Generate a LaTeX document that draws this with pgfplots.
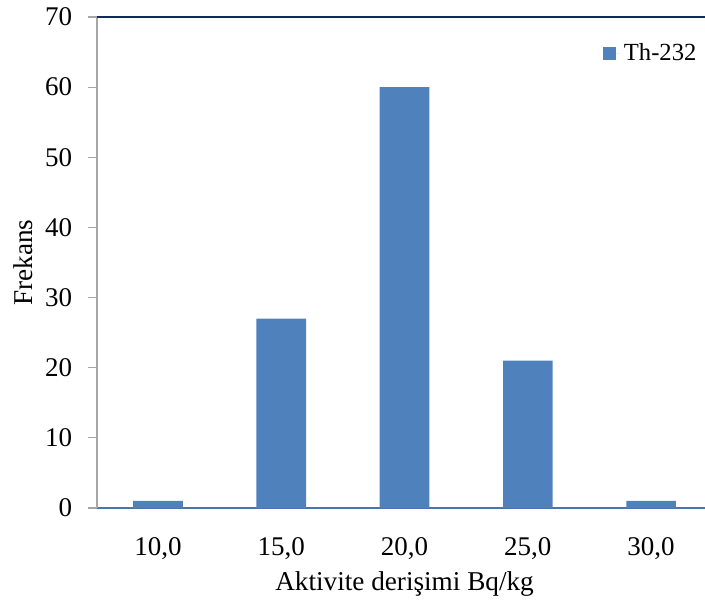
\documentclass[border=0pt]{standalone}
\usepackage{fontspec}
\setmainfont{Liberation Serif}
\usepackage{pgfplots}
\pgfplotsset{compat=1.18}

\definecolor{barblue}{HTML}{4F81BD}
\definecolor{baseblue}{HTML}{4A74B0}
\definecolor{topnavy}{HTML}{102A60}
\definecolor{axisgray}{HTML}{A6A6A6}

\begin{document}
\begin{tikzpicture}
\path[use as bounding box] (0,0) rectangle (352.5pt,300.5pt);
\begin{axis}[
  at={(48.5pt,46.5pt)}, anchor=south west,
  scale only axis,
  width=310pt, height=245.5pt,
  xmin=-0.495, xmax=4.535,
  ymin=0, ymax=70,
  ybar, bar width=24.8pt,
  axis x line*=bottom, axis y line*=left,
  x axis line style={draw=baseblue, line width=0.6pt},
  y axis line style={draw=axisgray, line width=0.6pt},
  xtick={0,1,2,3,4},
  xticklabels={{10,0},{15,0},{20,0},{25,0},{30,0}},
  xtick style={draw=none},
  ytick={0,10,...,70},
  ytick style={draw=axisgray, line width=0.6pt},
  tick align=outside,
  major tick length=4.5pt,
  extra y ticks={70},
  extra y tick labels={},
  extra y tick style={grid=major, major grid style={draw=topnavy, line width=0.9pt}, major tick length=0pt},
  /pgf/number format/assume math mode=true,
  tick label style={font=\fontsize{13.5}{15}\selectfont},
  xticklabel style={yshift=-6.8pt},
  yticklabel style={xshift=-4.4pt},
  xlabel={Aktivite derişimi Bq/kg},
  ylabel={Frekans},
  label style={font=\fontsize{13.6}{16}\selectfont},
  xlabel style={at={(axis description cs:0.4960,-0.155)}, anchor=center},
  ylabel style={at={(axis description cs:-0.1194,0.5)}, anchor=center},
  legend style={at={(0.816,0.926)}, anchor=west, draw=none, fill=none,
    inner sep=0pt, outer sep=0pt, font=\fontsize{12.3}{14}\selectfont},
  legend image code/.code={\fill[barblue] (0pt,-3.25pt) rectangle (6.5pt,3.25pt);
    \path (0pt,0pt) -- (8.5pt,0pt);},
]
\addplot[fill=barblue, draw=none, bar shift=0pt] coordinates {
  (0,1) (1,27) (2,60) (3,21) (4,1)
};
\addlegendentry{Th-232}
\end{axis}
\end{tikzpicture}
\end{document}
